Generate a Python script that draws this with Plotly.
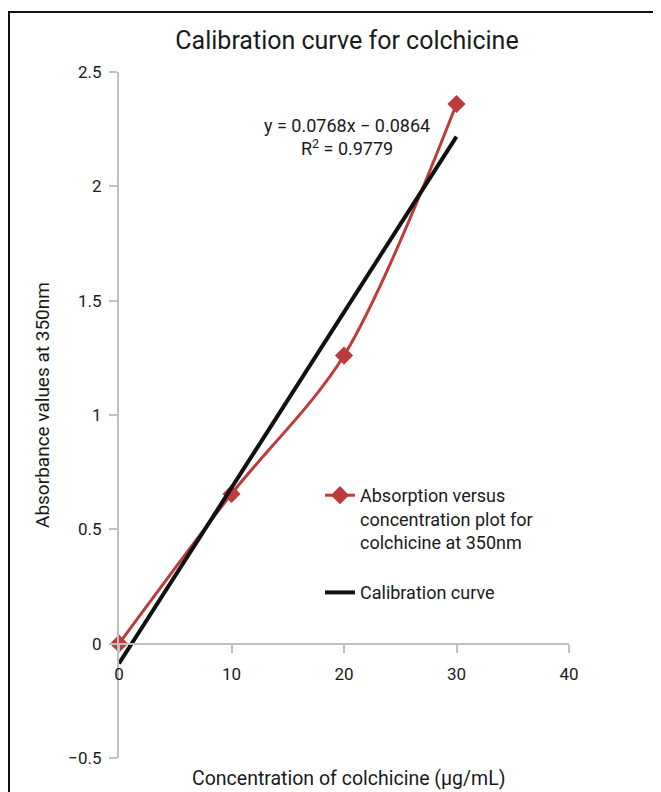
import plotly.graph_objects as go

# ---- data ----
concentration = [0, 10, 20, 30]
absorbance = [0.0, 0.655, 1.26, 2.36]
trend_slope = 0.0768
trend_intercept = -0.0864
trend_x = [0, 30]
x_ticks = [0, 10, 20, 30, 40]
y_ticks = [-0.5, 0, 0.5, 1, 1.5, 2, 2.5]

trend_y = [trend_slope * x + trend_intercept for x in trend_x]

# page has an 8px body margin; work in figure coordinates
OFF = 8
W, H = 661 - OFF, 792 - OFF
L, R, T, B = 111, 653 - 561, 64, 784 - 750
pw, ph = W - L - R, H - T - B


def px(xpage):
    return (xpage - OFF - L) / pw


def py(ypage):
    return (H - B - (ypage - OFF)) / ph


FONT = "Roboto"
TXT = "#1a1a1a"
AX = "#c0c0c0"
RED = "#be3b3b"

fig = go.Figure()
fig.add_trace(go.Scatter(
    x=concentration, y=absorbance, mode="lines+markers",
    name="Absorption versus<br>concentration plot for<br>colchicine at 350nm",
    legendgroup="a",
    line=dict(color=RED, width=3, shape="spline", smoothing=0.9),
    marker=dict(symbol="diamond", size=14, color=RED),
    cliponaxis=False,
))
fig.add_trace(go.Scatter(
    x=trend_x, y=trend_y, mode="lines", name="Calibration curve",
    legendgroup="b",
    line=dict(color="#111111", width=4),
    cliponaxis=False,
))

fig.update_layout(
    width=W, height=H, autosize=False,
    margin=dict(l=L, r=R, t=T, b=B),
    paper_bgcolor="white", plot_bgcolor="white",
    font=dict(family=FONT, size=17, color=TXT),
    title=dict(text="Calibration curve for colchicine", x=(347 - OFF) / W, xanchor="center",
               y=1 - (40 - OFF) / H, yanchor="middle", font=dict(size=25, color=TXT)),
    xaxis=dict(range=[0, 40], tickvals=x_ticks, anchor="free", position=1 / 6,
               showline=True, linecolor=AX, linewidth=2, ticks="outside", ticklen=8,
               tickwidth=2, tickcolor=AX, showgrid=False, zeroline=False,
               ticklabelstandoff=7, tickfont=dict(size=17, color=TXT)),
    yaxis=dict(range=[-0.5, 2.5], tickvals=y_ticks, showline=True, linecolor=AX,
               linewidth=2, ticks="outside", ticklen=8, tickwidth=2, tickcolor=AX,
               showgrid=False, zeroline=False, ticklabelstandoff=4,
               tickfont=dict(size=17, color=TXT)),
    legend=dict(x=px(320), y=py(477), xanchor="left", yanchor="top", valign="top",
                bgcolor="rgba(0,0,0,0)", font=dict(size=18, color=TXT),
                tracegroupgap=24),
    showlegend=True,
)

fig.add_annotation(text="y = 0.0768x − 0.0864<br>R<sup>2</sup> = 0.9779",
                   xref="paper", yref="paper", x=px(347), y=py(137),
                   xanchor="center", yanchor="middle", showarrow=False, align="center",
                   font=dict(size=18, color=TXT))
fig.add_annotation(text="Concentration of colchicine (μg/mL)", xref="paper", yref="paper",
                   x=px(348), y=py(778), xanchor="center", yanchor="middle",
                   showarrow=False, font=dict(size=19.5, color=TXT))
fig.add_annotation(text="Absorbance values at 350nm", xref="paper", yref="paper",
                   x=px(43), y=py(405), xanchor="center", yanchor="middle", textangle=-90,
                   showarrow=False, font=dict(size=19, color=TXT))

# frame lines (top and left edges of the original chart box)
fig.add_shape(type="line", xref="paper", yref="paper", x0=px(8), x1=px(720),
              y0=py(12), y1=py(12), line=dict(color="#111111", width=2))
fig.add_shape(type="line", xref="paper", yref="paper", x0=px(9), x1=px(9),
              y0=py(12), y1=py(830), line=dict(color="#111111", width=2))

fig.write_html("out.html")
